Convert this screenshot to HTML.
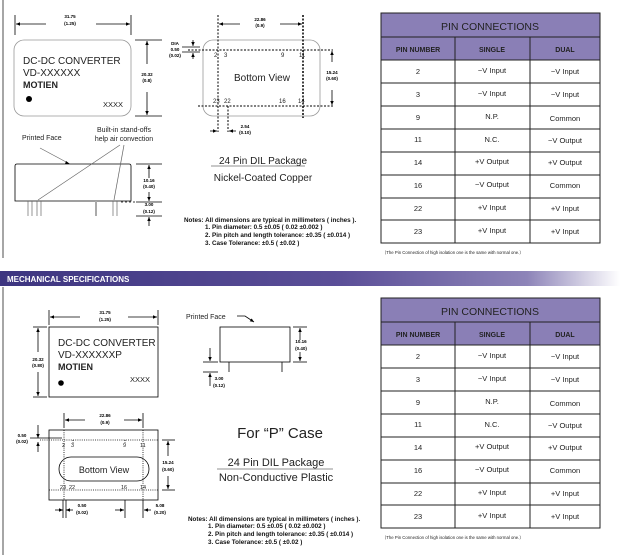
<!DOCTYPE html>
<html><head><meta charset="utf-8"><style>
html,body{margin:0;padding:0;background:#fff;}
svg{display:block;font-family:"Liberation Sans",Arial,sans-serif;}
.s{font-size:4.5px;font-weight:bold;}
.n{font-size:6.3px;font-weight:bold;fill:#111;}
.tb{font-size:7.5px;fill:#222;}
</style></head><body>
<svg width="620" height="555" viewBox="0 0 620 555" xmlns="http://www.w3.org/2000/svg">
<defs>
<linearGradient id="hg" x1="0" x2="1"><stop offset="0" stop-color="#3d3580"/><stop offset="0.55" stop-color="#5b4f98"/><stop offset="0.85" stop-color="#8d84b8"/><stop offset="1" stop-color="#ffffff"/></linearGradient>
<marker id="a" markerWidth="6" markerHeight="6" refX="5" refY="3" orient="auto"><path d="M0,0.8 L5,3 L0,5.2z" fill="#000"/></marker>
</defs>
<line x1="3" y1="0" x2="3" y2="258" stroke="#888" stroke-width="1.5"/>
<line x1="3" y1="287" x2="3" y2="555" stroke="#888" stroke-width="1.5"/>

<g stroke="#000" stroke-width="0.8" fill="none">
<line x1="15" y1="15" x2="15" y2="35"/><line x1="131" y1="15" x2="131" y2="35"/>
<line x1="46" y1="24" x2="16" y2="24" marker-end="url(#a)"/><line x1="96" y1="24" x2="130" y2="24" marker-end="url(#a)"/>
<rect x="14" y="40" width="117" height="76" rx="10" stroke="#999"/>
<line x1="135" y1="40" x2="162" y2="40"/><line x1="135" y1="116" x2="162" y2="116"/>
<line x1="147" y1="64" x2="147" y2="41" marker-end="url(#a)"/><line x1="147" y1="92" x2="147" y2="115" marker-end="url(#a)"/>
<path d="M15,201 L15,166 Q15,164 17,164 L129,164 Q131,164 131,166 L131,201 Z"/>
<line x1="136" y1="164" x2="162" y2="164"/><line x1="136" y1="202" x2="162" y2="202"/><line x1="136" y1="216" x2="162" y2="216"/>
<line x1="149" y1="178" x2="149" y2="165" marker-end="url(#a)"/><line x1="149" y1="192" x2="149" y2="201" marker-end="url(#a)"/>
<line x1="149" y1="226" x2="149" y2="217" marker-end="url(#a)"/>
</g>
<g stroke="#666" stroke-width="0.7" fill="none">
<line x1="28" y1="201" x2="28" y2="216"/><line x1="32" y1="201" x2="32" y2="216"/>
<line x1="37" y1="201" x2="37" y2="216"/><line x1="41" y1="201" x2="41" y2="216"/>
<line x1="96" y1="201" x2="96" y2="216" stroke="#aaa" stroke-width="2"/>
<line x1="113" y1="201" x2="113" y2="216"/><line x1="117" y1="201" x2="117" y2="216"/>
<line x1="40" y1="148" x2="68" y2="163"/>
<line x1="120" y1="145" x2="38" y2="200"/><line x1="124" y1="145" x2="114" y2="200"/>
<line x1="121" y1="202" x2="136" y2="202" stroke-dasharray="2,2" stroke="#000"/>
</g>
<path d="M66,161 L70,164 L65,164z" fill="#000"/>
<text x="70" y="18" class="s" text-anchor="middle">31.75</text><text x="70" y="25" class="s" text-anchor="middle">(1.25)</text>
<text x="23" y="64" font-size="10" fill="#222">DC-DC CONVERTER</text>
<text x="23" y="76" font-size="10" fill="#222">VD-XXXXXX</text>
<text x="23" y="88" font-size="9" font-weight="bold" fill="#222">MOTIEN</text>
<circle cx="29" cy="99" r="3" fill="#000"/>
<text x="103" y="107" font-size="7.5" fill="#222">XXXX</text>
<text x="147" y="76" class="s" text-anchor="middle">20.32</text><text x="147" y="82" class="s" text-anchor="middle">(0.8)</text>
<text x="22" y="140" font-size="7" fill="#222">Printed Face</text>
<text x="124" y="132" font-size="7" fill="#222" text-anchor="middle">Built-in stand-offs</text>
<text x="124" y="141" font-size="7" fill="#222" text-anchor="middle">help air convection</text>
<text x="149" y="182" class="s" text-anchor="middle">10.16</text><text x="149" y="188" class="s" text-anchor="middle">(0.40)</text>
<text x="149" y="206" class="s" text-anchor="middle">3.00</text><text x="149" y="213" class="s" text-anchor="middle">(0.12)</text>

<rect x="203" y="40" width="117" height="76" rx="10" fill="none" stroke="#999" stroke-width="0.8"/>
<g stroke="#000" stroke-width="1" fill="none" stroke-dasharray="2,1.5">
<line x1="188" y1="50" x2="333" y2="50"/><line x1="198" y1="106" x2="333" y2="106"/>
<line x1="218" y1="15" x2="218" y2="132"/><line x1="303" y1="15" x2="303" y2="118" stroke-width="1.5"/>
<line x1="228" y1="106" x2="228" y2="132"/>
</g>
<g stroke="#000" stroke-width="0.8" fill="none">
<line x1="240" y1="24" x2="219" y2="24" marker-end="url(#a)"/><line x1="280" y1="24" x2="302" y2="24" marker-end="url(#a)"/>
<line x1="332" y1="62" x2="332" y2="51" marker-end="url(#a)"/><line x1="332" y1="90" x2="332" y2="105" marker-end="url(#a)"/>
<line x1="182" y1="47" x2="200" y2="47"/><line x1="182" y1="52" x2="200" y2="52"/>
<line x1="193" y1="40" x2="193" y2="46" marker-end="url(#a)"/><line x1="193" y1="59" x2="193" y2="53" marker-end="url(#a)"/>
<line x1="210" y1="131" x2="217" y2="131" marker-end="url(#a)"/><line x1="236" y1="131" x2="229" y2="131" marker-end="url(#a)"/>
</g>
<text x="260" y="21" class="s" text-anchor="middle">22.86</text><text x="260" y="27" class="s" text-anchor="middle">(0.9)</text>
<text x="175" y="45" class="s" text-anchor="middle">DIA</text><text x="175" y="51" class="s" text-anchor="middle">0.50</text><text x="175" y="57" class="s" text-anchor="middle">(0.02)</text>
<text x="262" y="81" font-size="10" fill="#222" text-anchor="middle">Bottom View</text>
<g font-size="6" fill="#222"><text x="214" y="57">2</text><text x="224" y="57">3</text><text x="281" y="57">9</text><text x="299" y="57">11</text>
<text x="213" y="103">23</text><text x="224" y="103">22</text><text x="279" y="103">16</text><text x="298" y="103">14</text></g>
<text x="332" y="74" class="s" text-anchor="middle">15.24</text><text x="332" y="80" class="s" text-anchor="middle">(0.60)</text>
<text x="245" y="128" class="s" text-anchor="middle">2.54</text><text x="245" y="134" class="s" text-anchor="middle">(0.10)</text>
<text x="263" y="164" font-size="10" fill="#222" text-anchor="middle">24 Pin DIL Package</text>
<line x1="211" y1="166" x2="305" y2="166" stroke="#222" stroke-width="0.6"/>
<text x="263" y="181" font-size="10" fill="#222" text-anchor="middle">Nickel-Coated Copper</text>
<text x="184" y="222" class="n">Notes: All dimensions are typical in millimeters ( inches ).</text>
<text x="205" y="229" class="n">1.  Pin diameter: 0.5 ±0.05 ( 0.02 ±0.002 )</text>
<text x="205" y="237" class="n">2.  Pin pitch and length tolerance:  ±0.35 ( ±0.014 )</text>
<text x="205" y="245" class="n">3.  Case Tolerance:  ±0.5 ( ±0.02 )</text>

<rect x="0" y="271" width="620" height="15" fill="url(#hg)"/>
<text x="7" y="282" font-size="8" font-weight="bold" fill="#fff">MECHANICAL SPECIFICATIONS</text>

<g stroke="#000" stroke-width="0.8" fill="none">
<line x1="49" y1="310" x2="49" y2="325"/><line x1="158" y1="310" x2="158" y2="325"/>
<line x1="80" y1="317" x2="50" y2="317" marker-end="url(#a)"/><line x1="128" y1="317" x2="157" y2="317" marker-end="url(#a)"/>
<rect x="49" y="327" width="109" height="70"/>
<line x1="33" y1="327" x2="47" y2="327"/><line x1="33" y1="397" x2="47" y2="397"/>
<line x1="38" y1="352" x2="38" y2="328" marker-end="url(#a)"/><line x1="38" y1="372" x2="38" y2="396" marker-end="url(#a)"/>
<rect x="220" y="327" width="70" height="35"/>
<line x1="229" y1="362" x2="229" y2="372"/><line x1="282" y1="362" x2="282" y2="372"/>
<line x1="293" y1="327" x2="307" y2="327"/><line x1="293" y1="362" x2="307" y2="362"/>
<line x1="300" y1="340" x2="300" y2="328" marker-end="url(#a)"/><line x1="300" y1="352" x2="300" y2="361" marker-end="url(#a)"/>
<line x1="203" y1="362" x2="218" y2="362"/><line x1="203" y1="372" x2="218" y2="372"/>
<line x1="210" y1="348" x2="210" y2="361" marker-end="url(#a)"/><line x1="210" y1="386" x2="210" y2="373" marker-end="url(#a)"/>
<path d="M237,316 L245,316 L254,322" marker-end="url(#a)"/>
<rect x="49" y="430" width="109" height="70"/>
<rect x="59" y="457" width="90" height="24" rx="12"/>
<line x1="85" y1="420" x2="65" y2="420" marker-end="url(#a)"/><line x1="124" y1="420" x2="142" y2="420" marker-end="url(#a)"/>
<line x1="64" y1="413" x2="64" y2="428"/><line x1="143" y1="413" x2="143" y2="428"/>
<line x1="162" y1="440" x2="175" y2="440"/><line x1="162" y1="490" x2="175" y2="490"/>
<line x1="168" y1="456" x2="168" y2="441" marker-end="url(#a)"/><line x1="168" y1="476" x2="168" y2="489" marker-end="url(#a)"/>
<line x1="38" y1="425" x2="38" y2="438" marker-end="url(#a)"/><line x1="38" y1="452" x2="38" y2="442" marker-end="url(#a)"/>
<line x1="30" y1="438" x2="62" y2="438"/>
<line x1="55" y1="510" x2="63" y2="510" marker-end="url(#a)"/><line x1="73" y1="510" x2="66" y2="510" marker-end="url(#a)"/>
<line x1="115" y1="510" x2="124" y2="510" marker-end="url(#a)"/><line x1="151" y1="510" x2="144" y2="510" marker-end="url(#a)"/>
<line x1="125" y1="500" x2="125" y2="518"/><line x1="143" y1="500" x2="143" y2="518"/>
<line x1="63" y1="500" x2="63" y2="518"/><line x1="66" y1="500" x2="66" y2="518"/>
</g>
<g stroke="#000" stroke-width="0.8" stroke-dasharray="1,1.2" fill="none">
<line x1="40" y1="440" x2="158" y2="440"/><line x1="49" y1="490" x2="158" y2="490"/>
<line x1="64" y1="430" x2="64" y2="500"/><line x1="143" y1="430" x2="143" y2="500"/>
<line x1="73" y1="440" x2="73" y2="443"/><line x1="125" y1="440" x2="125" y2="443"/>
</g>
<text x="105" y="314" class="s" text-anchor="middle">31.75</text><text x="105" y="321" class="s" text-anchor="middle">(1.25)</text>
<text x="58" y="346" font-size="10" fill="#222">DC-DC CONVERTER</text>
<text x="58" y="358" font-size="10" fill="#222">VD-XXXXXXP</text>
<text x="58" y="370" font-size="9" font-weight="bold" fill="#222">MOTIEN</text>
<circle cx="61" cy="383" r="2.8" fill="#000"/>
<text x="130" y="382" font-size="7.5" fill="#222">XXXX</text>
<text x="38" y="361" class="s" text-anchor="middle">20.32</text><text x="38" y="367" class="s" text-anchor="middle">(0.80)</text>
<text x="186" y="319" font-size="7" fill="#222">Printed Face</text>
<text x="301" y="343" class="s" text-anchor="middle">10.16</text><text x="301" y="350" class="s" text-anchor="middle">(0.40)</text>
<text x="219" y="380" class="s" text-anchor="middle">3.00</text><text x="219" y="387" class="s" text-anchor="middle">(0.12)</text>
<text x="105" y="417" class="s" text-anchor="middle">22.86</text><text x="105" y="424" class="s" text-anchor="middle">(0.9)</text>
<text x="104" y="473" font-size="9" fill="#222" text-anchor="middle">Bottom  View</text>
<g font-size="5.5" fill="#222"><text x="62" y="447">2</text><text x="71" y="447">3</text><text x="123" y="447">9</text><text x="140" y="447">11</text>
<text x="60" y="489">23</text><text x="69" y="489">22</text><text x="121" y="489">16</text><text x="140" y="489">14</text></g>
<text x="168" y="464" class="s" text-anchor="middle">15.24</text><text x="168" y="471" class="s" text-anchor="middle">(0.60)</text>
<text x="22" y="437" class="s" text-anchor="middle">0.50</text><text x="22" y="443" class="s" text-anchor="middle">(0.02)</text>
<text x="82" y="507" class="s" text-anchor="middle">0.50</text><text x="82" y="514" class="s" text-anchor="middle">(0.02)</text>
<text x="160" y="507" class="s" text-anchor="middle">5.08</text><text x="160" y="514" class="s" text-anchor="middle">(0.20)</text>
<text x="280" y="438" font-size="15" fill="#222" text-anchor="middle">For “P” Case</text>
<text x="276" y="466" font-size="11" fill="#222" text-anchor="middle">24 Pin DIL Package</text>
<line x1="217" y1="469" x2="333" y2="469" stroke="#222" stroke-width="0.6"/>
<text x="276" y="481" font-size="11" fill="#222" text-anchor="middle">Non-Conductive Plastic</text>
<text x="188" y="521" class="n">Notes: All dimensions are typical in millimeters ( inches ).</text>
<text x="208" y="528" class="n">1.  Pin diameter: 0.5 ±0.05 ( 0.02 ±0.002 )</text>
<text x="208" y="536" class="n">2.  Pin pitch and length tolerance:  ±0.35 ( ±0.014 )</text>
<text x="208" y="544" class="n">3.  Case Tolerance:  ±0.5 ( ±0.02 )</text>

<g id="t1">
<rect x="381" y="13" width="219" height="47" fill="#8a7fb6"/>
<g stroke="#222" stroke-width="1" fill="none">
<rect x="381" y="13" width="219" height="230"/>
<line x1="381" y1="37" x2="600" y2="37"/><line x1="381" y1="60" x2="600" y2="60"/>
<line x1="455" y1="37" x2="455" y2="243"/><line x1="530" y1="37" x2="530" y2="243"/>
<line x1="381" y1="83" x2="600" y2="83"/><line x1="381" y1="106" x2="600" y2="106"/><line x1="381" y1="129" x2="600" y2="129"/><line x1="381" y1="152" x2="600" y2="152"/><line x1="381" y1="175" x2="600" y2="175"/><line x1="381" y1="198" x2="600" y2="198"/><line x1="381" y1="220" x2="600" y2="220"/>
</g>
<text x="490" y="30" font-size="10.5" fill="#222" text-anchor="middle">PIN CONNECTIONS</text>
<g font-size="7" font-weight="bold" fill="#222" text-anchor="middle"><text x="418" y="52">PIN NUMBER</text><text x="492" y="52">SINGLE</text><text x="565" y="52">DUAL</text></g>
<g class="tb" text-anchor="middle">
<text x="418" y="74">2</text><text x="492" y="73">−V Input</text><text x="565" y="74">−V Input</text>
<text x="418" y="97">3</text><text x="492" y="96">−V Input</text><text x="565" y="97">−V Input</text>
<text x="418" y="120">9</text><text x="492" y="119">N.P.</text><text x="565" y="121">Common</text>
<text x="418" y="142">11</text><text x="492" y="142">N.C.</text><text x="565" y="143">−V Output</text>
<text x="418" y="165">14</text><text x="492" y="164">+V Output</text><text x="565" y="165">+V Output</text>
<text x="418" y="188">16</text><text x="492" y="187">−V Output</text><text x="565" y="188">Common</text>
<text x="418" y="211">22</text><text x="492" y="210">+V Input</text><text x="565" y="211">+V Input</text>
<text x="418" y="234">23</text><text x="492" y="233">+V Input</text><text x="565" y="234">+V Input</text>
</g>
<text x="382" y="254" font-size="4.3" fill="#222">（The Pin Connection of high isolation one is the same with normal one.）</text>
</g>
<use href="#t1" transform="translate(0,285)"/>
</svg>
</body></html>
